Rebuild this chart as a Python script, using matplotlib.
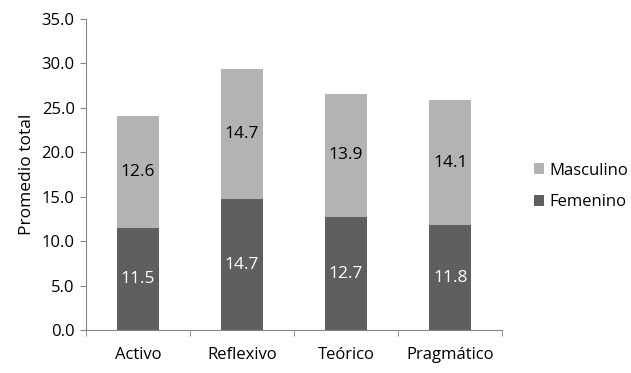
import matplotlib
matplotlib.use('agg')
import matplotlib.pyplot as plt
import numpy as np

categories = ['Activo', 'Reflexivo', 'Teórico', 'Pragmático']
femenino = [11.5, 14.7, 12.7, 11.8]
masculino = [12.6, 14.7, 13.9, 14.1]
y_ticks = [0, 5, 10, 15, 20, 25, 30, 35]

plt.rcParams['font.family'] = ['Open Sans', 'DejaVu Sans']
plt.rcParams['font.size'] = 12

dark = '#5f5f5f'
light = '#b3b3b3'
axis_col = '#868686'

fig = plt.figure(figsize=(6.31, 3.73), dpi=100)
ax = fig.add_axes([0.136, 0.115, 0.66, 0.834])

x = np.arange(len(categories))
ax.bar(x, femenino, width=0.4, color=dark, label='Femenino')
ax.bar(x, masculino, width=0.4, bottom=femenino, color=light, label='Masculino')

for i in range(len(categories)):
    ax.text(x[i], femenino[i] / 2, f'{femenino[i]:.1f}', ha='center', va='center',
            color='white', fontsize=12.5)
    ax.text(x[i], femenino[i] + masculino[i] / 2, f'{masculino[i]:.1f}', ha='center',
            va='center', color='black', fontsize=12.5)

ax.set_xlim(-0.5, len(categories) - 0.5)
ax.set_ylim(0, 35)
ax.set_yticks(y_ticks)
ax.set_yticklabels([f'{v:.1f}' for v in y_ticks])
ax.set_xticks(x)
ax.set_xticklabels(categories)
ax.set_xticks(np.arange(len(categories) + 1) - 0.5, minor=True)
ax.tick_params(axis='x', which='major', length=0, pad=12)
ax.tick_params(axis='x', which='minor', length=4, color=axis_col)
ax.tick_params(axis='y', length=4, color=axis_col, pad=4)
ax.set_ylabel('Promedio total', fontsize=12.5, labelpad=5)

for side in ['top', 'right']:
    ax.spines[side].set_visible(False)
for side in ['left', 'bottom']:
    ax.spines[side].set_color(axis_col)

handles, labels = ax.get_legend_handles_labels()
fig.legend(handles[::-1], labels[::-1], loc='center left', bbox_to_anchor=(0.822, 0.5),
           frameon=False, handlelength=0.6, handleheight=0.6, handletextpad=0.35,
           labelspacing=0.95, fontsize=12)

plt.savefig('out.png', dpi=100)
